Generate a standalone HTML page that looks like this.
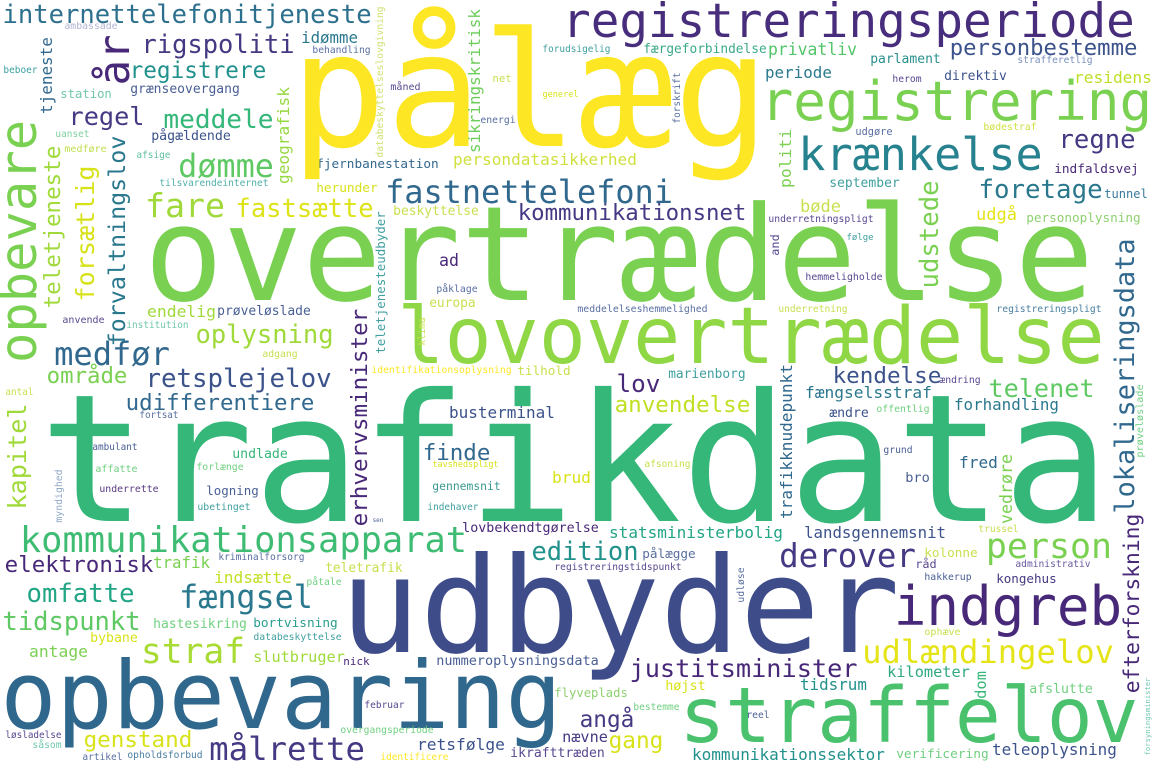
<!DOCTYPE html>
<html><head><meta charset="utf-8"><style>
html,body{margin:0;padding:0;background:#fff;}
svg{display:block;}
text{font-family:"DejaVu Sans Mono","Liberation Mono",monospace;}
</style></head><body>
<svg id="cloud" width="1155" height="770" viewBox="0 0 1155 770" xmlns="http://www.w3.org/2000/svg">
<rect x="0" y="0" width="1155" height="770" fill="#ffffff"/>
</svg>
<script>
// horizontal words: text, left x, right x, baseline y, colour
const hWords = [
['internettelefonitjeneste',4,370,23,'#2d708e'],['ambassade',65,117,29,'#b0b4d0'],['rigspoliti',143,293,53,'#443983'],
['idømme',302,357,43,'#2a788e'],['behandling',313,370,53,'#5a6fa0'],['registrere',131,265,78,'#21918c'],
['beboer',4,37,73,'#3aa0a0'],['grænseovergang',131,239,93,'#4a5f95'],['station',61,111,98,'#70c8a8'],
['regel',70,143,125,'#443983'],['meddele',165,272,128,'#35b779'],['uanset',56,89,137,'#7fd0a0'],
['pågældende',152,230,140,'#3b528b'],['medføre',65,106,152,'#c0e050'],['afsige',137,170,158,'#5ec0a0'],
['dømme',180,272,177,'#5ec962'],['tilsvarende',160,222,186,'#50b0a8'],['internet',223,268,186,'#50b0a8'],
['fjernbanestation',317,438,168,'#31688e'],['persondatasikkerhed',454,636,165,'#d0e040'],['herunder',317,377,192,'#d8e219'],
['fare',147,223,217,'#9fda3a'],['fastsætte',237,372,217,'#dde318'],['beskyttelse',394,478,215,'#c8e050'],
['fastnettelefoni',387,671,203,'#31688e'],['kommunikationsnet',519,745,220,'#443983'],['overtrædelse',152,1086,300,'#7ad151'],
['ad',440,458,266,'#482878'],['påklage',437,477,292,'#5a6fa0'],['europa',430,475,307,'#c8e050'],
['endelig',148,215,317,'#9fda3a'],['prøveløslade',218,310,315,'#4a5f95'],['anvende',63,104,323,'#5a4890'],
['institution',127,188,328,'#70c8a8'],['oplysning',197,332,343,'#9fda3a'],['adgang',263,297,357,'#c8e050'],
['medfør',56,168,365,'#31688e'],['lovovertrædelse',402,1100,363,'#8fd744'],['område',48,126,383,'#7ad151'],
['retsplejelov',147,330,387,'#3b528b'],['identifikationsoplysning',372,511,373,'#fde725'],['tilhold',518,570,375,'#c8e050'],
['meddelelseshemmelighed',578,707,312,'#5a6fa0'],['underretning',779,847,312,'#c8e050'],['registreringspligt',997,1101,312,'#4a7fa0'],
['registreringsperiode',565,1132,37,'#472d7b'],['pålæg',300,760,146,'#fde725'],['forudsigelig',543,610,52,'#40a0a0'],
['net',493,511,82,'#c8e050'],['måned',391,420,90,'#5a4890'],['energi',481,515,123,'#5a6fa0'],
['generel',543,578,97,'#d8e219'],['færgeforbindelse',644,766,53,'#3aaa8a'],['privatliv',769,856,55,'#52c569'],
['personbestemme',951,1136,55,'#3b528b'],['parlament',871,940,63,'#2a908e'],['strafferetlig',1018,1092,63,'#7a90c0'],
['periode',766,831,78,'#2a788e'],['herom',893,921,82,'#5a4890'],['direktiv',945,1006,80,'#3b528b'],
['residens',1075,1151,83,'#bddf26'],['registrering',764,1149,120,'#7ad151'],['bødestraf',984,1036,130,'#d0e040'],
['udgøre',856,892,135,'#5a6fa0'],['krænkelse',801,1040,170,'#26828e'],['regne',1060,1134,148,'#443983'],
['indfaldsvej',1055,1138,173,'#482878'],['september',830,899,187,'#40a0a0'],['foretage',980,1101,198,'#2a788e'],
['tunnel',1105,1147,198,'#3a7a9a'],['bøde',801,840,212,'#c8e050'],['udgå',977,1016,220,'#e5e419'],
['personoplysning',1027,1140,222,'#8fd070'],['underretningspligt',769,873,222,'#5a4890'],['følge',847,873,240,'#40a0a0'],
['hemmeligholde',806,882,280,'#5a4890'],['marienborg',669,745,378,'#40a0a0'],['kendelse',834,940,383,'#3b528b'],
['lov',618,659,392,'#482878'],['ændring',940,980,383,'#5a4890'],['fængselsstraf',806,931,398,'#2a788e'],
['telenet',990,1093,397,'#5ec962'],['anvendelse',616,749,412,'#c2df23'],['ændre',830,868,417,'#3b528b'],
['offentlig',877,929,412,'#70d080'],['forhandling',955,1058,410,'#2a788e'],['grund',884,912,453,'#4a5f95'],
['afsoning',645,690,467,'#c8e050'],['fred',960,997,468,'#31688e'],['bro',906,929,482,'#4a5f95'],
['trussel',979,1018,532,'#c8e050'],['statsministerbolig',610,782,538,'#21a585'],['landsgennemsnit',805,945,538,'#3b528b'],
['edition',533,637,560,'#21918c'],['pålægge',643,695,558,'#5a6fa0'],['registreringstidspunkt',555,681,570,'#5a4890'],
['derover',781,914,567,'#443983'],['kolonne',925,977,557,'#c8e050'],['råd',916,936,568,'#5a4890'],
['person',988,1110,558,'#7ad151'],['administrativ',1016,1090,567,'#6a5aa0'],['hakkerup',925,971,580,'#4a5f95'],
['kongehus',997,1056,583,'#443983'],['udbyder',348,892,652,'#3e4c8a'],['indgreb',897,1119,625,'#482878'],
['ophæve',925,960,635,'#c8e050'],['udlændingelov',864,1112,663,'#e5e419'],['justitsminister',631,856,677,'#482878'],
['kilometer',888,969,677,'#2fa880'],['tidsrum',801,866,690,'#21918c'],['højst',666,705,690,'#d8e219'],
['afslutte',1030,1092,693,'#70d080'],['flyveplads',555,627,697,'#8fd070'],['bestemme',634,679,710,'#70d080'],
['straffelov',684,1134,742,'#4ac16d'],['reel',747,769,718,'#4a5f95'],['angå',581,633,727,'#443983'],
['nævne',563,607,742,'#443983'],['gang',610,662,748,'#d8e219'],['ikrafttræden',511,604,757,'#5a4890'],
['kommunikationssektor',693,884,760,'#21918c'],['verificering',897,988,758,'#70d080'],['teleoplysning',993,1116,755,'#3b528b'],
['antal',6,33,395,'#c8e050'],['udifferentiere',127,313,410,'#31688e'],['fortsat',140,178,418,'#5a6fa0'],
['busterminal',450,554,418,'#3b528b'],['finde',424,489,460,'#31688e'],['undlade',233,287,458,'#35b779'],
['forlænge',197,243,470,'#70d080'],['tavshedspligt',433,498,467,'#d8e219'],['ambulant',93,137,450,'#4a5f95'],
['affatte',96,137,472,'#70d080'],['underrette',100,158,492,'#5a3a80'],['logning',207,258,495,'#4a5f95'],
['gennemsnit',433,500,490,'#3a9a90'],['ubetinget',198,250,510,'#40a0a0'],['indehaver',428,478,510,'#40a0a0'],
['sen',373,383,522,'#4a5f95'],['lovbekendtgørelse',463,598,532,'#482878'],['brud',553,590,483,'#d8e219'],
['trafikdata',50,1099,521,'#35b779'],['kommunikationsapparat',22,465,552,'#3fbc73'],['elektronisk',6,152,572,'#482878'],
['trafik',154,209,568,'#7ad151'],['kriminalforsorg',219,304,560,'#5a6fa0'],['teletrafik',326,402,572,'#c8e050'],
['indsætte',215,291,583,'#c2df23'],['påtale',307,341,585,'#70d080'],['omfatte',28,133,602,'#21a585'],
['fængsel',181,311,608,'#2a788e'],['tidspunkt',4,139,630,'#5ec962'],['hastesikring',154,246,628,'#70d080'],
['bortvisning',254,337,627,'#2a9d8f'],['bybane',91,137,642,'#d8e219'],['databeskyttelse',254,341,640,'#40a0a0'],
['antage',30,87,657,'#7ad151'],['straf',143,243,663,'#a8db34'],['slutbruger',254,344,662,'#9fda3a'],
['nick',344,369,665,'#482878'],['nummeroplysningsdata',437,598,665,'#4a5f95'],['opbevaring',6,556,728,'#30678d'],
['februar',365,404,708,'#5a4890'],['løsladelse',6,61,738,'#5a4890'],['overgangsperiode',341,433,733,'#70d080'],
['genstand',85,191,747,'#d8e219'],['målrette',211,363,760,'#443983'],['retsfølge',418,504,750,'#3b528b'],
['såsom',33,61,748,'#70c8b0'],['artikel',83,122,760,'#5a6fa0'],['opholdsforbud',128,202,758,'#4a7fa0'],
['identificere',381,448,760,'#fde725']
];
// vertical words: text, baseline x, bottom y, top y, colour
const vWords = [
['år',129,83,37,'#482878'],['tjeneste',52,113,38,'#31688e'],['opbevare',36,360,123,'#7ad151'],
['teletjeneste',60,307,147,'#9fda3a'],['forsætlig',94,300,167,'#d8e219'],['forvaltningslov',125,345,137,'#2a788e'],
['geografisk',289,183,88,'#95d840'],['databeskyttelseslovgivning',383,157,7,'#d0e070'],['sikringskritisk',480,152,10,'#6ccd5a'],
['forskrift',680,123,73,'#5a6fa0'],['politi',791,187,130,'#7ad151'],['udstede',938,287,182,'#7ad151'],
['and',779,255,235,'#5a4890'],['lokaliseringsdata',1134,512,240,'#31688e'],['klima',425,345,318,'#c8e050'],
['teletjenesteudbyder',385,353,212,'#40a0a0'],['erhvervsminister',367,525,310,'#482878'],['trafikknudepunkt',792,518,365,'#31688e'],
['kapitel',26,508,405,'#a0da39'],['myndighed',62,522,470,'#90a8c8'],['vedrøre',1012,523,455,'#7ad151'],
['prøveløslade',1143,457,385,'#70d080'],['efterforskning',1139,692,515,'#482878'],['udløse',744,602,568,'#5a6fa0'],
['dom',986,698,672,'#35b779'],['forsyningsminister',1150,755,678,'#70c8b0']
];
const NS='http://www.w3.org/2000/svg';
const svg=document.getElementById('cloud');
const ADV=0.602;
function slug(s){return s.normalize('NFD').replace(/[^a-zA-Z]/g,'').toLowerCase();}
hWords.forEach(function(w){
  const n=w[0].length, width=w[2]-w[1];
  const fs=width/(ADV*n-0.12);
  const t=document.createElementNS(NS,'text');
  
  
  t.setAttribute('x',(w[1]-0.06*fs).toFixed(1));
  t.setAttribute('y',w[3]);
  t.setAttribute('font-size',fs.toFixed(2));
  t.setAttribute('textLength',(ADV*n*fs).toFixed(1));
  t.setAttribute('lengthAdjust','spacingAndGlyphs');
  t.setAttribute('fill',w[4]);
  t.textContent=w[0];
  svg.appendChild(t);
});
vWords.forEach(function(w){
  const n=w[0].length, len=w[2]-w[3];
  const fs=len/(ADV*n-0.12);
  const t=document.createElementNS(NS,'text');
  
  
  t.setAttribute('transform','translate('+w[1]+','+(w[2]+0.06*fs).toFixed(1)+') rotate(-90)');
  t.setAttribute('x',0);
  t.setAttribute('y',0);
  t.setAttribute('font-size',fs.toFixed(2));
  t.setAttribute('textLength',(ADV*n*fs).toFixed(1));
  t.setAttribute('lengthAdjust','spacingAndGlyphs');
  t.setAttribute('fill',w[4]);
  t.textContent=w[0];
  svg.appendChild(t);
});
</script>
</body></html>
